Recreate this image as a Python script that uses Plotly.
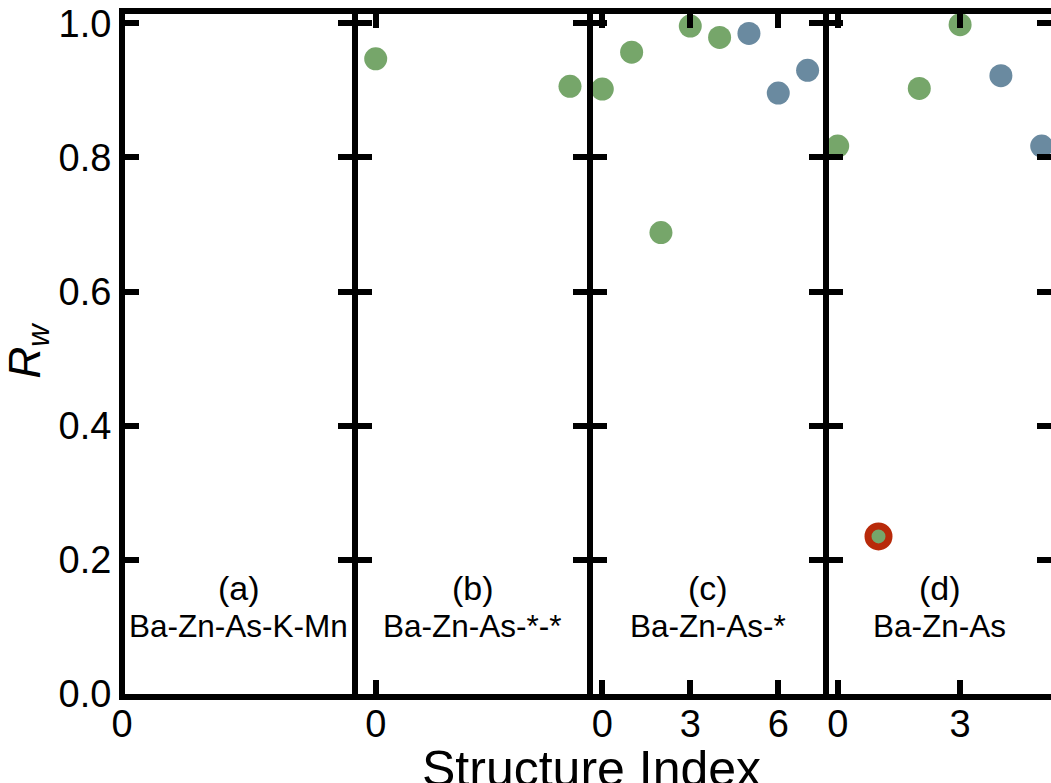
import plotly.graph_objects as go

# ---------------- data ----------------
panel_labels = ["(a)", "(b)", "(c)", "(d)"]
panel_systems = ["Ba-Zn-As-K-Mn", "Ba-Zn-As-*-*", "Ba-Zn-As-*", "Ba-Zn-As"]

# panel (a): no structures
a_green_x = []
a_green_y = []

# panel (b)
b_green_x = [0, 1]
b_green_y = [0.947, 0.906]

# panel (c)
c_green_x = [0, 1, 2, 3, 4]
c_green_y = [0.902, 0.957, 0.688, 0.996, 0.979]
c_blue_x = [5, 6, 7]
c_blue_y = [0.985, 0.896, 0.930]

# panel (d)
d_green_x = [0, 1, 2, 3]
d_green_y = [0.817, 0.235, 0.903, 0.998]
d_blue_x = [4, 5]
d_blue_y = [0.922, 0.817]
d_highlight_index = 1  # best structure (ringed)

y_ticks = [0.0, 0.2, 0.4, 0.6, 0.8, 1.0]

# ---------------- style ----------------
GREEN = "#76A66A"
BLUE = "#6A8AA0"
RED = "#B82A0A"
FONT = "Liberation Sans, Arial, sans-serif"

W, H = 1051, 783
ML, MR, MT, MB = 125, 0, 14, 89
inner_w = W - ML - MR
inner_h = H - MT - MB

def px2dom(a, b):
    return [(a - ML) / inner_w, (b - ML) / inner_w]

domains = [px2dom(125, 352), px2dom(358, 587), px2dom(593, 822.5), px2dom(828.5, 1051)]
x_ranges = [[0, 1], [-0.0911, 1.0875], [-0.317, 7.508], [-0.2255, 5.228]]
y_range = [0, 1.0139]

fig = go.Figure()

def add_points(xs, ys, color, idx):
    if not xs:
        return
    fig.add_trace(go.Scatter(
        x=xs, y=ys, mode="markers",
        marker=dict(size=23, color=color, line=dict(width=0)),
        xaxis="x" if idx == 1 else f"x{idx}",
        yaxis="y" if idx == 1 else f"y{idx}",
        showlegend=False, cliponaxis=True,
    ))

add_points(a_green_x, a_green_y, GREEN, 1)
add_points(b_green_x, b_green_y, GREEN, 2)
add_points(c_green_x, c_green_y, GREEN, 3)
add_points(c_blue_x, c_blue_y, BLUE, 3)
add_points(d_green_x, d_green_y, GREEN, 4)
add_points(d_blue_x, d_blue_y, BLUE, 4)

# highlighted best structure in (d)
fig.add_trace(go.Scatter(
    x=[d_green_x[d_highlight_index]], y=[d_green_y[d_highlight_index]],
    mode="markers",
    marker=dict(size=21, color=GREEN, line=dict(width=7, color=RED)),
    xaxis="x4", yaxis="y4", showlegend=False,
))

common = dict(
    showline=True, linewidth=6, linecolor="black", mirror="ticks",
    ticks="inside", ticklen=14, tickwidth=6, tickcolor="black",
    showgrid=False, zeroline=False, automargin=False,
    tickfont=dict(size=38, family=FONT, color="black"),
)

layout = dict(
    template="none",
    width=W, height=H,
    margin=dict(l=ML, r=MR, t=MT, b=MB, autoexpand=False),
    paper_bgcolor="white", plot_bgcolor="white",
    showlegend=False,
    font=dict(family=FONT, color="black"),
)

for i in range(4):
    n = i + 1
    xk = "xaxis" if n == 1 else f"xaxis{n}"
    yk = "yaxis" if n == 1 else f"yaxis{n}"
    layout[xk] = dict(
        common, domain=domains[i], range=x_ranges[i],
        tickmode="linear", tick0=0, dtick=3,
        anchor="y" if n == 1 else f"y{n}",
        ticklabelstandoff=-9,
    )
    layout[yk] = dict(
        common, range=y_range, tickmode="array", tickvals=y_ticks,
        ticktext=[f"{v:.1f}" for v in y_ticks],
        anchor="x" if n == 1 else f"x{n}",
        showticklabels=(n == 1),
    )
    if n > 1:
        layout[yk]["matches"] = "y"

layout["xaxis"]["ticklen"] = 0
layout["xaxis"]["ticklabelshift"] = -3

fig.update_layout(**layout)

# panel annotations
for i in range(4):
    n = i + 1
    xr = ("x" if n == 1 else f"x{n}") + " domain"
    yr = "y" if n == 1 else f"y{n}"
    fig.add_annotation(
        text=panel_labels[i], xref=xr, x=0.5, yref=yr, y=0.158,
        xanchor="center", yanchor="middle",
        showarrow=False, font=dict(size=34, family=FONT, color="black"),
    )
    fig.add_annotation(
        text=panel_systems[i], xref=xr, x=0.5, yref=yr, y=0.102,
        xanchor="center", yanchor="middle",
        showarrow=False, font=dict(size=31.5, family=FONT, color="black"),
    )

# axis titles
fig.add_annotation(
    text="Structure Index", xref="paper", yref="paper",
    x=(591 - ML) / inner_w, y=-0.066, xanchor="center", yanchor="top",
    showarrow=False, font=dict(size=50, family=FONT, color="black"),
)
fig.add_annotation(
    text="<i>R</i><sub><i>w</i></sub>", xref="paper", yref="paper",
    x=(27.5 - ML) / inner_w, y=(694 - 351) / inner_h, xanchor="center", yanchor="middle",
    textangle=-90, showarrow=False, font=dict(size=44, family=FONT, color="black"),
)

fig.write_html("out.html")
